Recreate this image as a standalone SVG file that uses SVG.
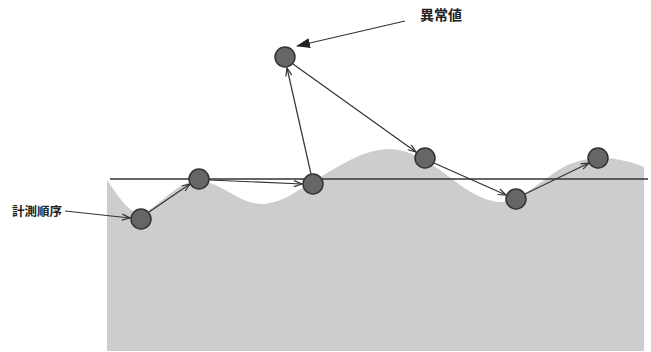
<svg xmlns="http://www.w3.org/2000/svg" width="651" height="352" viewBox="0 0 651 352">
<style>
.node{fill:#666;stroke:#333;stroke-width:1.5}
.conn{fill:none;stroke:#333;stroke-width:1.2}
.lbl{font-family:"Noto Sans CJK JP","Noto Sans CJK SC",sans-serif;font-weight:bold;fill:#222}
</style>
<defs>
<marker id="open" markerWidth="10" markerHeight="8" refX="9" refY="4" orient="auto" markerUnits="userSpaceOnUse">
<path d="M1,1 L9,4 L1,7" fill="none" stroke="#333" stroke-width="1.2"/>
</marker>
<marker id="solid" markerWidth="14" markerHeight="10" refX="13" refY="5" orient="auto" markerUnits="userSpaceOnUse">
<path d="M0,0 L14,5 L0,10 Z" fill="#222"/>
</marker>
</defs>
<rect width="651" height="352" fill="#fff"/>
<path id="ground" d="M107,180 C118,196 128,212 140,214 C158,210 175,180 200,181 C222,183 240,204 262,204 C285,203 300,188 320,177 C345,163 365,149 390,149 C410,150 425,160 440,170 C460,185 480,202 502,202 C525,200 545,175 570,164 C590,156 615,155 644,167 L644,351 L107,351 Z" fill="#cdcdcf"/>
<line x1="110" y1="179" x2="648" y2="179" stroke="#333" stroke-width="1.5"/>
<g id="connectors">
<line class="conn" x1="65" y1="211" x2="130" y2="218" marker-end="url(#open)"/>
<line class="conn" x1="149" y1="212" x2="190" y2="184" marker-end="url(#open)"/>
<line class="conn" x1="209" y1="180" x2="302" y2="184" marker-end="url(#open)"/>
<line class="conn" x1="311" y1="174" x2="287" y2="68" marker-end="url(#open)"/>
<line class="conn" x1="293" y1="64" x2="416" y2="152" marker-end="url(#open)"/>
<line class="conn" x1="434" y1="163" x2="506" y2="195" marker-end="url(#open)"/>
<line class="conn" x1="525" y1="194" x2="589" y2="163" marker-end="url(#open)"/>
<line class="conn" x1="405" y1="21" x2="297" y2="46" marker-end="url(#solid)"/>
</g>
<g id="n1"><circle class="node" cx="141" cy="219" r="10"/></g>
<g id="n2"><circle class="node" cx="199" cy="179" r="10"/></g>
<g id="n3"><circle class="node" cx="313" cy="184" r="10"/></g>
<g id="n4"><circle class="node" cx="285" cy="57" r="10"/></g>
<g id="n5"><circle class="node" cx="425" cy="158" r="10"/></g>
<g id="n6"><circle class="node" cx="516" cy="199" r="10"/></g>
<g id="n7"><circle class="node" cx="598" cy="158" r="10"/></g>
<g id="label-order"><text class="lbl" x="12" y="216" font-size="12.5">計測順序</text></g>
<g id="label-anomaly"><text class="lbl" x="420" y="20" font-size="14">異常値</text></g>
</svg>
